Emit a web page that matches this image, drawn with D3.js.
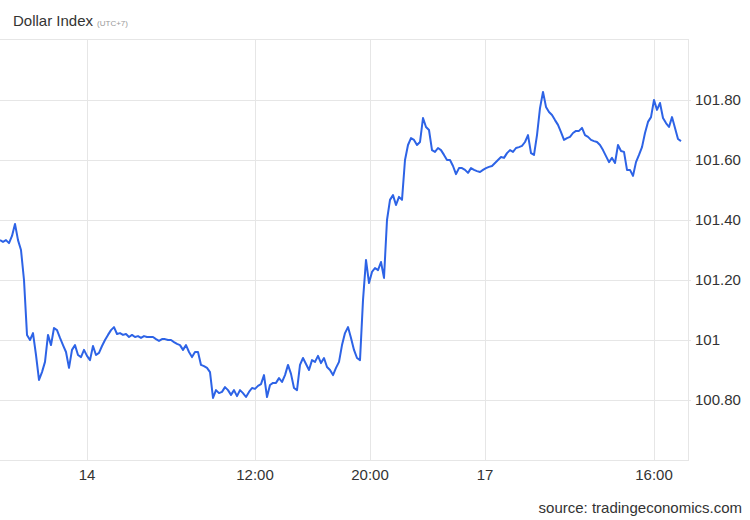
<!DOCTYPE html>
<html>
<head>
<meta charset="utf-8">
<script src="https://cdn.jsdelivr.net/npm/d3@7"></script>
<style>
  body { margin: 0; background: #fff; }
  text { font-family: "Liberation Sans", Arial, sans-serif; }
</style>
</head>
<body>
<svg id="chart" width="750" height="520"></svg>
<script>
// Dollar Index, intraday samples (evenly spaced in trading time)
const values = [
  101.333, 101.327, 101.333, 101.323, 101.347, 101.387, 101.333, 101.300, 101.200, 101.017,
  101.000, 101.023, 100.950, 100.867, 100.893, 100.927, 101.017, 100.983, 101.040, 101.033,
  101.007, 100.983, 100.960, 100.907, 100.967, 100.983, 100.950, 100.943, 100.967, 100.947,
  100.933, 100.980, 100.950, 100.957, 100.980, 101.000, 101.017, 101.033, 101.043, 101.020,
  101.023, 101.017, 101.020, 101.010, 101.017, 101.010, 101.013, 101.007, 101.013, 101.010,
  101.010, 101.010, 101.003, 100.997, 101.003, 101.003, 101.000, 101.000, 100.993, 100.987,
  100.983, 100.967, 100.983, 100.960, 100.943, 100.960, 100.960, 100.917, 100.913, 100.907,
  100.893, 100.807, 100.833, 100.823, 100.827, 100.843, 100.833, 100.817, 100.833, 100.813,
  100.833, 100.823, 100.810, 100.827, 100.840, 100.837, 100.847, 100.853, 100.883, 100.810,
  100.850, 100.857, 100.857, 100.873, 100.860, 100.883, 100.917, 100.887, 100.840, 100.833,
  100.917, 100.940, 100.920, 100.900, 100.933, 100.927, 100.947, 100.923, 100.940, 100.910,
  100.900, 100.883, 100.907, 100.927, 100.983, 101.023, 101.043, 101.007, 100.967, 100.940,
  100.933, 101.133, 101.267, 101.190, 101.227, 101.240, 101.233, 101.260, 101.207, 101.400,
  101.467, 101.483, 101.450, 101.477, 101.467, 101.600, 101.650, 101.673, 101.667, 101.650,
  101.660, 101.740, 101.710, 101.700, 101.633, 101.627, 101.640, 101.633, 101.617, 101.600,
  101.600, 101.580, 101.553, 101.573, 101.573, 101.567, 101.557, 101.573, 101.567, 101.563,
  101.560, 101.567, 101.573, 101.577, 101.580, 101.590, 101.600, 101.610, 101.607, 101.623,
  101.633, 101.627, 101.640, 101.643, 101.647, 101.660, 101.683, 101.623, 101.617, 101.683,
  101.773, 101.827, 101.777, 101.760, 101.750, 101.733, 101.717, 101.693, 101.667, 101.673,
  101.677, 101.690, 101.697, 101.697, 101.707, 101.683, 101.677, 101.667, 101.663, 101.660,
  101.650, 101.633, 101.613, 101.593, 101.607, 101.590, 101.650, 101.630, 101.627, 101.567,
  101.567, 101.547, 101.593, 101.617, 101.643, 101.690, 101.727, 101.743, 101.800, 101.767,
  101.790, 101.740, 101.723, 101.710, 101.743, 101.707, 101.670, 101.663
];

// x ticks: position in sample index, and label
const xTickAt = [29, 85, 123.33, 161.67, 218];
const xTickLabels = ["14", "12:00", "20:00", "17", "16:00"];

const yTicks = [100.8, 101.0, 101.2, 101.4, 101.6, 101.8];
const yDomain = [100.6, 102.0];

const svg = d3.select("#chart");
const plotRight = 689, plotTop = 40, plotBottom = 460;
const gridColor = "#e6e6e6";

const x = d3.scaleLinear().domain([0, values.length - 1]).range([0, 681]);
const y = d3.scaleLinear().domain(yDomain).range([plotBottom, plotTop]);

// title
const title = svg.append("text").attr("x", 13).attr("y", 26)
  .attr("font-size", 15).attr("fill", "#333").text("Dollar Index");
title.append("tspan").attr("dx", 4).attr("font-size", 8).attr("fill", "#999").text("(UTC+7)");

// frame lines
svg.append("line").attr("x1", 0).attr("x2", plotRight).attr("y1", plotTop - 0.5).attr("y2", plotTop - 0.5)
  .attr("stroke", gridColor);
svg.append("line").attr("x1", 0).attr("x2", plotRight).attr("y1", plotBottom + 0.5).attr("y2", plotBottom + 0.5)
  .attr("stroke", gridColor);
svg.append("line").attr("x1", plotRight - 0.5).attr("x2", plotRight - 0.5).attr("y1", plotTop).attr("y2", plotBottom)
  .attr("stroke", gridColor);

// horizontal grid + y labels
svg.append("g").selectAll("line").data(yTicks).join("line")
  .attr("x1", 0).attr("x2", plotRight + 2)
  .attr("y1", d => Math.round(y(d)) + 0.5).attr("y2", d => Math.round(y(d)) + 0.5)
  .attr("stroke", gridColor);

svg.append("g").selectAll("text").data(yTicks).join("text")
  .attr("x", 695).attr("y", d => y(d) + 5)
  .attr("font-size", 15).attr("fill", "#333")
  .text(d => Math.abs(d - Math.round(d)) < 1e-9 ? d3.format("d")(d) : d3.format(".2f")(d));

// vertical grid + x labels
svg.append("g").selectAll("line").data(xTickAt).join("line")
  .attr("x1", d => Math.round(x(d)) + 0.5).attr("x2", d => Math.round(x(d)) + 0.5)
  .attr("y1", plotTop).attr("y2", plotBottom)
  .attr("stroke", gridColor);

svg.append("g").selectAll("text").data(xTickAt).join("text")
  .attr("x", d => x(d)).attr("y", 480)
  .attr("text-anchor", "middle").attr("font-size", 15).attr("fill", "#333")
  .text((d, i) => xTickLabels[i]);

// series line
svg.append("path").datum(values)
  .attr("fill", "none")
  .attr("stroke", "#2d63e6")
  .attr("stroke-width", 2)
  .attr("stroke-linejoin", "round")
  .attr("d", d3.line().x((d, i) => x(i)).y(d => y(d)));

// source
svg.append("text").attr("x", 742).attr("y", 513)
  .attr("text-anchor", "end").attr("font-size", 15).attr("fill", "#333")
  .text("source: tradingeconomics.com");
</script>
</body>
</html>
